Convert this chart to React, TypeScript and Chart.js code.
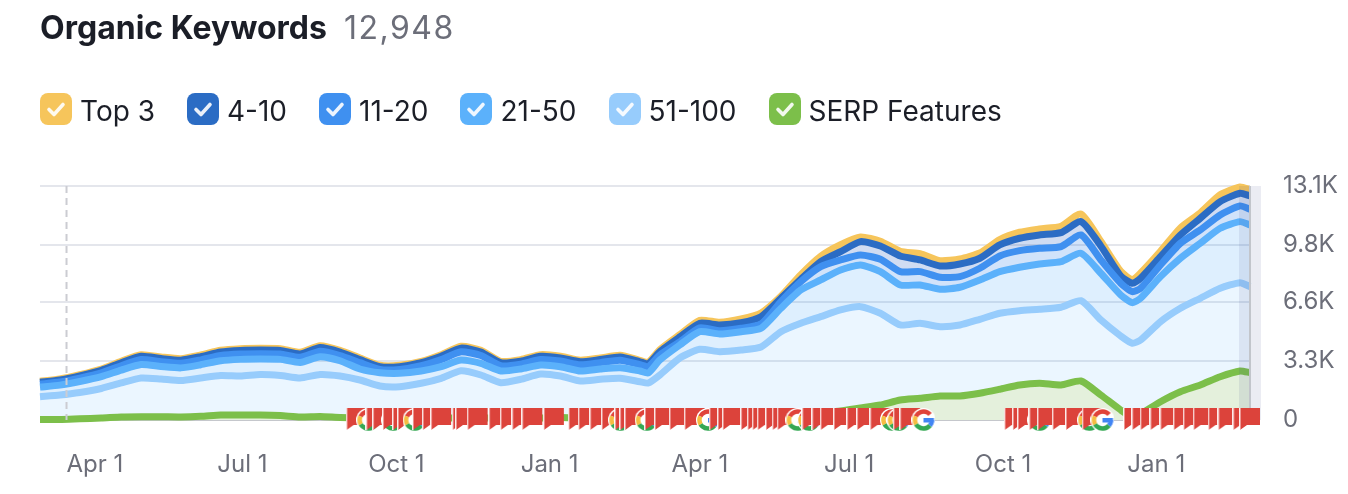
import { useEffect, useRef } from 'react';
import { Chart, registerables } from 'chart.js';

Chart.register(...registerables);

const FONT = 'Inter, sans-serif';

// days counted from the first Apr 1 on the axis
const days = [
  -16, -4, 8, 21, 33, 45, 57, 69, 81, 93, 105, 117, 129, 141, 153, 165, 177, 189, 201, 214, 226, 238,
  250, 262, 274, 286, 298, 310, 322, 334, 346, 351, 358, 370, 382, 394, 407, 419, 431, 443, 455, 467,
  479, 491, 503, 515, 527, 539, 551, 563, 575, 587, 600, 612, 624, 636, 643, 648, 660, 672, 684, 696, 708, 714,
];

// top of each band as the stacked chart shows it
const top3 = [
  2167, 2296, 2537, 2856, 3287, 3657, 3528, 3433, 3640, 3903, 3993, 4015, 3993, 3791, 4161, 3903, 3472, 3063, 3063, 3287, 3657, 4127,
  3903, 3287, 3377, 3657, 3567, 3343, 3472, 3623, 3343, 3231, 3937, 4777, 5583, 5471, 5656, 5992, 6927, 8137, 9167, 9817,
  10248, 10007, 9447, 9313, 8921, 9016, 9352, 10097, 10511, 10696, 10847, 11536, 10007, 8327, 7857, 8232, 9447, 10752, 11592, 12617, 13048, 12897,
];
const pos4to10 = [
  2113, 2239, 2474, 2785, 3205, 3566, 3440, 3347, 3549, 3805, 3893, 3915, 3893, 3696, 4057, 3805, 3385, 2986, 2986, 3205, 3566, 4024,
  3805, 3205, 3293, 3566, 3478, 3259, 3385, 3532, 3259, 3150, 3830, 4648, 5415, 5320, 5449, 5785, 6815, 7878, 8865, 9425,
  9985, 9744, 9184, 8960, 8624, 8736, 9055, 9800, 10175, 10360, 10489, 11105, 9744, 8064, 7655, 7935, 9145, 10360, 11295, 12225, 12695, 12544,
];
const pos11to20 = [
  2005, 2124, 2347, 2642, 3040, 3383, 3263, 3176, 3367, 3610, 3694, 3714, 3694, 3507, 3849, 3610, 3212, 2833, 2833, 3040, 3383, 3817,
  3610, 3040, 3124, 3383, 3299, 3092, 3212, 3351, 3092, 2989, 3640, 4368, 5152, 5001, 5135, 5376, 6625, 7745, 8585, 8960,
  9240, 8999, 8305, 8305, 7991, 8025, 8495, 9184, 9481, 9615, 9705, 10360, 8960, 7655, 7185, 7375, 8680, 9895, 10640, 11480, 11984, 11799,
];
const pos21to50 = [
  1842, 1952, 2156, 2428, 2794, 3108, 2999, 2918, 3094, 3318, 3394, 3413, 3394, 3222, 3537, 3318, 2856, 2649, 2615, 2744, 2985, 3360,
  3175, 2744, 2856, 3080, 2985, 2744, 2856, 2929, 2744, 2632, 3360, 4200, 4945, 4816, 4945, 5135, 6255, 7280, 7840, 8400,
  8680, 8305, 7560, 7560, 7319, 7431, 7840, 8305, 8551, 8736, 8865, 9335, 8215, 7000, 6569, 6815, 8025, 9055, 9895, 10735, 11105, 10920,
];
const pos51to100 = [
  1305, 1400, 1540, 1764, 2072, 2352, 2296, 2212, 2352, 2492, 2464, 2548, 2492, 2352, 2548, 2464, 2240, 1904, 1865, 2055, 2335, 2761,
  2520, 2089, 2279, 2576, 2464, 2184, 2279, 2335, 2145, 2072, 2520, 3472, 3959, 3825, 3920, 4087, 4945, 5415, 5785, 6160,
  6345, 5975, 5320, 5415, 5225, 5320, 5639, 5975, 6121, 6199, 6311, 6681, 5600, 4705, 4295, 4480, 5505, 6255, 6815, 7375, 7689, 7465,
];
const serpFeatures = [
  30, 30, 70, 110, 170, 185, 185, 170, 205, 280, 280, 280, 250, 170, 195, 140, 120, 110, 110, 100, 100, 110,
  110, 110, 110, 110, 140, 110, 100, 100, 100, 100, 110, 110, 110, 110, 110, 120, 120, 280, 390, 500,
  670, 840, 1120, 1215, 1344, 1344, 1495, 1719, 1960, 2055, 1960, 2184, 1400, 560, 170, 340, 1025, 1585, 1960, 2425, 2744, 2649,
];

// note markers along the zero line
const flagDays = [
  175, 187, 191, 197, 203, 206, 215, 221, 226, 239, 241, 248, 261, 268, 275, 281, 294, 309, 315, 322, 329, 337, 340, 343,
  355, 361, 370, 379, 394, 399, 402, 413, 417, 420, 423, 428, 432, 435, 450, 456, 461, 469, 477, 483, 491, 505, 509,
  572, 577, 580, 587, 592, 601, 609, 619, 644, 649, 654, 660, 666, 674, 680, 686, 695, 701, 710, 714,
];
const googleDays = [182, 197, 210, 334, 350, 387, 441, 448, 498, 502, 517, 587, 617, 625];

const xTickDays = [0, 91, 182, 274, 365, 457, 548, 640];
const xTickLabels = ['Apr 1', 'Jul 1', 'Oct 1', 'Jan 1', 'Apr 1', 'Jul 1', 'Oct 1', 'Jan 1'];
const yTicks = [0, 3300, 6600, 9800, 13100];
const yTickLabels = ['0', '3.3K', '6.6K', '9.8K', '13.1K'];

const legendItems = [
  { label: 'Top 3', color: '#f6c55b' },
  { label: '4-10', color: '#2b6cc4' },
  { label: '11-20', color: '#3f90f0' },
  { label: '21-50', color: '#5bb1fb' },
  { label: '51-100', color: '#97ccfc' },
  { label: 'SERP Features', color: '#7cbf4a' },
];

function makeFlag() {
  const c = document.createElement('canvas');
  c.width = 22;
  c.height = 24;
  const ctx = c.getContext('2d')!;
  ctx.beginPath();
  ctx.moveTo(1, 0);
  ctx.lineTo(21, 0);
  ctx.lineTo(21, 17);
  ctx.lineTo(8, 17);
  ctx.lineTo(1, 22);
  ctx.closePath();
  ctx.fillStyle = '#dc433b';
  ctx.fill();
  // only the left edge gets the pale outline
  ctx.fillStyle = 'rgba(255,255,255,0.9)';
  ctx.fillRect(0, 0, 1.5, 22);
  return c;
}

function makeGoogle() {
  const c = document.createElement('canvas');
  c.width = 24;
  c.height = 24;
  const ctx = c.getContext('2d')!;
  ctx.fillStyle = '#fff';
  ctx.beginPath();
  ctx.arc(12, 12, 12, 0, Math.PI * 2);
  ctx.fill();
  ctx.lineWidth = 4.5;
  const arc = (color: string, from: number, to: number) => {
    ctx.strokeStyle = color;
    ctx.beginPath();
    ctx.arc(12, 12, 8.5, (from * Math.PI) / 180, (to * Math.PI) / 180);
    ctx.stroke();
  };
  arc('#e0433a', 205, 320);
  arc('#f5bd42', 150, 205);
  arc('#35a853', 40, 150);
  arc('#4285f4', 0, 40);
  ctx.fillStyle = '#4285f4';
  ctx.fillRect(12, 10, 10.5, 4.5);
  return c;
}

// hover band at the last day and the dashed marker at the first Apr 1
const markers = {
  id: 'markers',
  afterDatasetDraw(chart: any, args: any) {
    if (args.index !== 1) return;
    const { ctx, chartArea, scales } = chart;
    const last = scales.x.getPixelForValue(days[days.length - 1]);
    const dash = scales.x.getPixelForValue(0);
    ctx.save();
    ctx.fillStyle = 'rgba(70,80,140,0.105)';
    ctx.fillRect(last - 11, chartArea.top, 22, chartArea.height);
    ctx.strokeStyle = '#c2c5cb';
    ctx.lineWidth = 2;
    ctx.beginPath();
    ctx.moveTo(last, chartArea.top);
    ctx.lineTo(last, chartArea.bottom);
    ctx.stroke();
    ctx.setLineDash([7, 5]);
    ctx.strokeStyle = '#cbccd2';
    ctx.beginPath();
    ctx.moveTo(dash, chartArea.top);
    ctx.lineTo(dash, chartArea.bottom);
    ctx.stroke();
    ctx.restore();
  },
};

function toPoints(values: number[]) {
  return values.map((v, i) => ({ x: days[i], y: v }));
}

export default function App() {
  const canvasRef = useRef<HTMLCanvasElement>(null);

  useEffect(() => {
    if (!canvasRef.current) return;
    const flag = makeFlag();
    const google = makeGoogle();
    const events = [
      ...googleDays.map((d) => ({ x: d, y: 0, icon: google })),
      ...flagDays.map((d) => ({ x: d, y: 0, icon: flag })),
    ].sort((a, b) => a.x - b.x);

    const band = (label: string, data: number[], color: string, fillColor: string, fill: any) => ({
      type: 'line' as const,
      label,
      data: toPoints(data),
      borderColor: color,
      backgroundColor: fillColor,
      borderWidth: 7,
      pointRadius: 0,
      tension: 0.2,
      borderJoinStyle: 'round' as const,
      clip: 4,
      fill,
    });

    const chart = new Chart(canvasRef.current, {
      type: 'line',
      data: {
        datasets: [
          {
            type: 'scatter',
            label: 'Notes',
            data: events,
            pointStyle: events.map((e) => e.icon),
            pointRadius: 10,
            clip: false,
          } as any,
          band('SERP Features', serpFeatures, '#7cbf4a', '#e4f0dc', 'origin'),
          band('51-100', pos51to100, '#97ccfc', 'rgba(0,135,250,0.08)', 'origin'),
          band('21-50', pos21to50, '#5bb1fb', 'rgba(0,135,250,0.13)', '-1'),
          band('11-20', pos11to20, '#3f90f0', 'rgba(0,100,230,0.18)', '-1'),
          band('4-10', pos4to10, '#2b6cc4', 'rgba(20,80,190,0.2)', '-1'),
          band('Top 3', top3, '#f6c55b', 'rgba(245,190,70,0.3)', '-1'),
        ],
      },
      options: {
        responsive: false,
        animation: false,
        layout: { padding: { left: 40, top: 186, right: 0, bottom: 0 } },
        plugins: { legend: { display: false }, tooltip: { enabled: false } },
        scales: {
          x: {
            type: 'linear',
            min: days[0],
            max: days[days.length - 1],
            grid: { display: false },
            border: { display: false },
            afterBuildTicks: (s: any) => { s.ticks = xTickDays.map((value) => ({ value })); },
            afterFit: (s: any) => { s.height = 74; },
            ticks: {
              autoSkip: false,
              maxRotation: 0,
              align: 'start',
              padding: 22,
              color: '#6c6e79',
              font: { family: FONT, size: 24 },
              callback: (v: any) => xTickLabels[xTickDays.indexOf(v)],
            },
          },
          y: {
            position: 'right',
            min: 0,
            max: 13100,
            grid: {
              drawTicks: false,
              lineWidth: 2,
              color: (c: any) => (c.tick && c.tick.value === 0 ? '#c5c7cc' : '#e4e6ec'),
            },
            border: { display: false },
            afterBuildTicks: (s: any) => { s.ticks = yTicks.map((value) => ({ value })); },
            afterFit: (s: any) => { s.width = 98; },
            ticks: {
              padding: 33,
              color: '#6c6e79',
              font: { family: FONT, size: 24 },
              callback: (v: any) => yTickLabels[yTicks.indexOf(v)],
            },
          },
        },
      },
      plugins: [markers],
    });

    return () => { chart.destroy(); };
  }, []);

  return (
    <div style={{ position: 'absolute', left: 0, top: 0, width: 1348, height: 494, background: '#fff', fontFamily: FONT, overflow: 'hidden' }}>
      <canvas ref={canvasRef} width={1348} height={494} style={{ position: 'absolute', left: 0, top: 0, display: 'block' }} />
      <div style={{ position: 'absolute', left: 40, top: 8, display: 'flex', alignItems: 'baseline', gap: 17, lineHeight: '40px', whiteSpace: 'nowrap' }}>
        <span style={{ fontSize: 32, fontWeight: 700, color: '#1b1e27' }}>Organic Keywords</span>
        <span style={{ fontSize: 32, letterSpacing: 1.5, color: '#6c6e79' }}>12,948</span>
      </div>
      <div style={{ position: 'absolute', left: 40, top: 93, display: 'flex', gap: 32, whiteSpace: 'nowrap' }}>
        {legendItems.map((item) => (
          <div key={item.label} style={{ display: 'flex', alignItems: 'center', gap: 8, height: 32 }}>
            <svg width="32" height="32" viewBox="0 0 32 32">
              <rect width="32" height="32" rx="8" fill={item.color} />
              <path d="M9 16.5l5 5 9-10" fill="none" stroke="#fff" strokeOpacity="0.9" strokeWidth="3.6" strokeLinecap="round" strokeLinejoin="round" />
            </svg>
            <span style={{ fontSize: 28, color: '#1b1e27', position: 'relative', top: 1.5 }}>{item.label}</span>
          </div>
        ))}
      </div>
    </div>
  );
}
